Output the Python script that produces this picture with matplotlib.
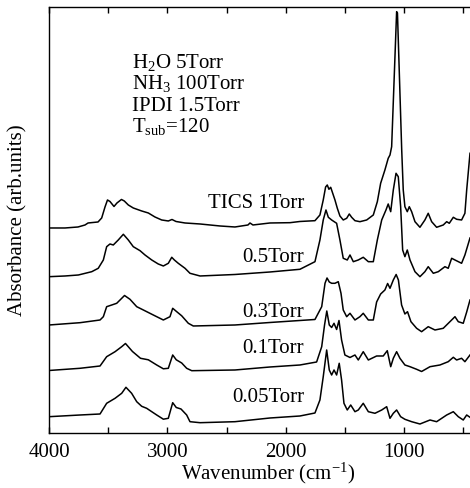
import matplotlib
matplotlib.use('Agg')
import matplotlib.pyplot as plt
from matplotlib.ticker import FixedLocator

plt.rcParams['font.family'] = ['Liberation Serif', 'DejaVu Serif']
plt.rcParams['mathtext.fontset'] = 'custom'
plt.rcParams['mathtext.rm'] = 'Liberation Serif'
plt.rcParams['mathtext.it'] = 'Liberation Serif:italic'

# spectra: wavenumber (cm-1) and absorbance (arb.units)
wn_1torr = [4000, 3865, 3755, 3696, 3670, 3586, 3555, 3527, 3506, 3485, 3451, 3426, 3388, 3364,
            3330, 3288, 3217, 3161, 3105, 3048, 2992, 2961, 2927, 2851, 2724, 2555, 2429, 2319,
            2302, 2277, 2133, 1964, 1880, 1753, 1711, 1683, 1663, 1649, 1635, 1620, 1603, 1584,
            1564, 1542, 1514, 1485, 1463, 1443, 1415, 1373, 1316, 1260, 1226, 1198, 1162, 1134,
            1119, 1105, 1063, 1056, 1020, 1007, 993, 973, 956, 936, 908, 866, 824, 796, 767, 725,
            669, 640, 618, 584, 556, 514, 486, 471, 443]
abs_1torr = [0.00, 0.00, 0.01, 0.03, 0.05, 0.06, 0.10, 0.21, 0.28, 0.265, 0.215, 0.25, 0.285, 0.27,
             0.23, 0.20, 0.17, 0.15, 0.11, 0.08, 0.07, 0.085, 0.065, 0.05, 0.04, 0.02, 0.01, 0.03,
             0.05, 0.03, 0.05, 0.053, 0.065, 0.073, 0.13, 0.28, 0.41, 0.43, 0.387, 0.407, 0.347, 0.28,
             0.197, 0.12, 0.08, 0.097, 0.14, 0.107, 0.073, 0.063, 0.08, 0.13, 0.263, 0.447, 0.58, 0.697,
             0.73, 0.813, 2.163, 2.15, 0.78, 0.38, 0.213, 0.163, 0.213, 0.163, 0.063, 0.007, 0.08, 0.147,
             0.063, 0.007, 0.03, 0.063, 0.047, 0.107, 0.087, 0.08, 0.147, 0.38, 0.747]

wn_05torr = [4000, 3865, 3752, 3639, 3584, 3541, 3513, 3485, 3457, 3415, 3372, 3330, 3288, 3231,
             3189, 3132, 3077, 3034, 2992, 2963, 2941, 2908, 2851, 2809, 2724, 2429, 2133, 1880,
             1753, 1711, 1683, 1660, 1640, 1612, 1570, 1542, 1514, 1480, 1457, 1429, 1387, 1345,
             1302, 1260, 1226, 1189, 1153, 1134, 1113, 1091, 1068, 1049, 1029, 1012, 993, 973, 950,
             908, 866, 824, 796, 753, 711, 655, 627, 598, 570, 514, 486, 443]
abs_05torr = [0.0, 0.007, 0.017, 0.05, 0.084, 0.167, 0.30, 0.327, 0.317, 0.367, 0.424, 0.367, 0.30, 0.26,
              0.217, 0.167, 0.127, 0.107, 0.134, 0.194, 0.167, 0.134, 0.084, 0.034, 0.007, 0.022, 0.047,
              0.074, 0.15, 0.367, 0.567, 0.667, 0.594, 0.567, 0.534, 0.367, 0.184, 0.167, 0.217, 0.15,
              0.167, 0.194, 0.15, 0.15, 0.367, 0.567, 0.667, 0.727, 0.65, 0.867, 1.034, 1.00, 0.70,
              0.267, 0.20, 0.267, 0.167, 0.05, 0.0, 0.05, 0.10, 0.034, 0.05, 0.10, 0.084, 0.184, 0.167,
              0.134, 0.217, 0.387]

wn_03torr = [4000, 3738, 3569, 3541, 3513, 3470, 3428, 3400, 3362, 3316, 3259, 3203, 3119, 3034,
             2978, 2955, 2921, 2879, 2823, 2781, 2429, 2133, 1880, 1753, 1696, 1668, 1651, 1632,
             1612, 1584, 1556, 1533, 1514, 1485, 1457, 1415, 1373, 1345, 1302, 1260, 1232, 1198,
             1162, 1139, 1119, 1091, 1067, 1048, 1021, 993, 971, 942, 894, 852, 796, 739, 669, 598,
             570, 542, 500, 471, 443]
abs_03torr = [0.0, 0.023, 0.05, 0.083, 0.183, 0.20, 0.217, 0.25, 0.295, 0.257, 0.183, 0.15, 0.10, 0.05,
              0.083, 0.167, 0.133, 0.092, 0.017, -0.01, 0.0, 0.025, 0.045, 0.055, 0.183, 0.417, 0.47,
              0.43, 0.417, 0.417, 0.433, 0.317, 0.15, 0.083, 0.117, 0.05, 0.083, 0.117, 0.05, 0.05,
              0.23, 0.31, 0.35, 0.415, 0.367, 0.45, 0.505, 0.45, 0.20, 0.11, 0.133, 0.033, -0.033,
              -0.067, -0.017, -0.05, -0.033, 0.05, 0.083, 0.033, 0.017, 0.13, 0.25]

wn_01torr = [4000, 3738, 3569, 3513, 3442, 3386, 3354, 3295, 3227, 3161, 3090, 3034, 2992, 2955,
             2925, 2879, 2837, 2794, 2429, 2133, 1880, 1739, 1696, 1672, 1653, 1632, 1612, 1592,
             1570, 1550, 1528, 1500, 1457, 1415, 1387, 1345, 1302, 1232, 1176, 1142, 1113, 1091,
             1063, 1035, 993, 950, 894, 852, 781, 697, 627, 584, 556, 514, 486, 443]
abs_01torr = [0.0, 0.022, 0.045, 0.138, 0.188, 0.238, 0.27, 0.19, 0.122, 0.107, 0.055, 0.017, 0.022,
              0.155, 0.107, 0.075, 0.022, -0.002, 0.005, 0.035, 0.055, 0.085, 0.238, 0.455, 0.595,
              0.455, 0.43, 0.472, 0.41, 0.50, 0.305, 0.155, 0.13, 0.155, 0.105, 0.188, 0.105, 0.145,
              0.145, 0.198, 0.038, 0.122, 0.188, 0.122, 0.055, 0.038, 0.012, -0.01, 0.038, 0.055,
              0.088, 0.132, 0.105, 0.122, 0.088, 0.155]

wn_005torr = [4000, 3738, 3569, 3513, 3442, 3386, 3350, 3302, 3259, 3217, 3175, 3132, 3090, 3034,
              2992, 2955, 2925, 2885, 2837, 2809, 2724, 2429, 2133, 1880, 1753, 1711, 1683, 1654,
              1632, 1612, 1592, 1570, 1548, 1528, 1508, 1480, 1451, 1415, 1387, 1345, 1302, 1246,
              1189, 1147, 1119, 1091, 1063, 1029, 993, 936, 866, 781, 725, 640, 584, 542, 500, 471, 443]
abs_005torr = [0.0, 0.017, 0.027, 0.134, 0.184, 0.234, 0.294, 0.234, 0.15, 0.104, 0.084, 0.05, 0.017,
               -0.025, -0.016, 0.14, 0.092, 0.077, 0.017, -0.05, -0.06, -0.05, -0.013, 0.007, 0.037,
               0.167, 0.40, 0.667, 0.467, 0.417, 0.467, 0.417, 0.534, 0.367, 0.134, 0.067, 0.117, 0.05,
               0.067, 0.134, 0.05, 0.034, 0.067, 0.10, -0.016, 0.034, 0.067, 0.0, -0.026, -0.05,
               -0.073, -0.033, -0.05, 0.017, 0.05, 0.0, -0.033, 0.017, -0.006]

labels = ['TICS 1Torr', '0.5Torr', '0.3Torr', '0.1Torr', '0.05Torr']
offsets = [2.053, 1.566, 1.083, 0.628, 0.166]
conditions = ['H$_2$O 5Torr', 'NH$_3$ 100Torr', 'IPDI 1.5Torr', 'T$_{\\mathrm{sub}}$=120']

fig = plt.figure(figsize=(4.7, 4.88), dpi=100)
ax = fig.add_axes([0.1043, 0.1121, 0.8957, 0.873])

spectra = [(wn_1torr, abs_1torr), (wn_05torr, abs_05torr), (wn_03torr, abs_03torr),
           (wn_01torr, abs_01torr), (wn_005torr, abs_005torr)]
for (wn, a), off in zip(spectra, offsets):
    ax.plot(wn, [v + off for v in a], color='black', lw=1.1)

ax.set_xlim(4000, 443)
ax.set_ylim(0, 4.26)
ax.xaxis.set_major_locator(FixedLocator([4000, 3000, 2000, 1000]))
ax.xaxis.set_minor_locator(FixedLocator([3500, 2500, 1500, 500]))
ax.tick_params(axis='x', which='both', direction='in', top=True, length=4, width=1,
               labelsize=15, pad=7)
ax.set_yticks([])
ax.spines['right'].set_visible(False)
for s in ['left', 'top', 'bottom']:
    ax.spines[s].set_linewidth(1.0)

ax.set_xlabel('Wavenumber (cm$^{-1}$)', fontsize=15)
ax.xaxis.set_label_coords(0.521, -0.064)
ax.set_ylabel('Absorbance (arb.units)', fontsize=15)
ax.yaxis.set_label_coords(-0.052, 0.5)

# sample label per spectrum
label_y = [0.530, 0.403, 0.274, 0.188, 0.074]
for lab, ly in zip(labels, label_y):
    ax.text(0.606, ly, lab, transform=ax.transAxes, ha='right', va='baseline', fontsize=15)

cond_y = [0.857, 0.808, 0.757, 0.708]
for txt, cy in zip(conditions, cond_y):
    ax.text(0.197, cy, txt, transform=ax.transAxes, ha='left', va='baseline', fontsize=15)

fig.savefig('out.png', dpi=100)
